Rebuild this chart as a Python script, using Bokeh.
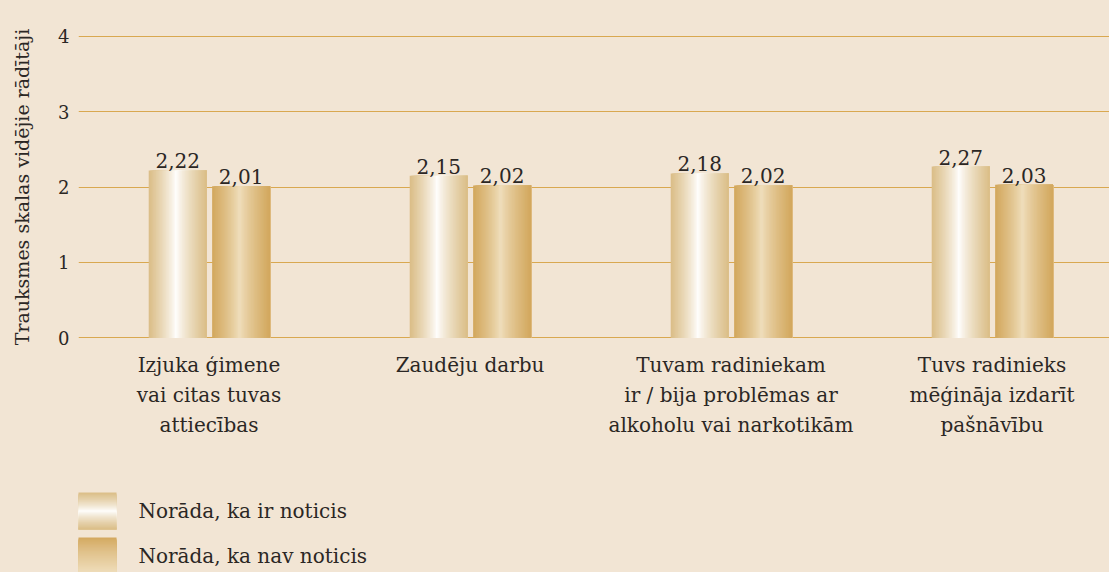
import numpy as np
from bokeh.plotting import figure
from bokeh.layouts import column
from bokeh.models import Range1d, FixedTicker, ColumnDataSource
from bokeh.core.properties import value
from bokeh.embed import file_html
from bokeh.resources import INLINE

categories = [
    "Izjuka ģimene\nvai citas tuvas\nattiecības",
    "Zaudēju darbu",
    "Tuvam radiniekam\nir / bija problēmas ar\nalkoholu vai narkotikām",
    "Tuvs radinieks\nmēģināja izdarīt\npašnāvību",
]
series_names = ["Norāda, ka ir noticis", "Norāda, ka nav noticis"]
noticis = [2.22, 2.15, 2.18, 2.27]
nav_noticis = [2.01, 2.02, 2.02, 2.03]
y_ticks = [0, 1, 2, 3, 4]
y_title = "Trauksmes skalas vidējie rādītāji"

BG = "#f2e5d4"
GRID = "#d9a850"
TXT = "#2b2724"
FONT = "DejaVu Serif"

def mix(c1, c2, t):
    a = np.array([int(c1[i:i + 2], 16) for i in (1, 3, 5)], float)
    b = np.array([int(c2[i:i + 2], 16) for i in (1, 3, 5)], float)
    c = a + (b - a) * t
    return "#%02x%02x%02x" % tuple(int(round(v)) for v in c)

def profile(t, peak=0.47, power=0.8):
    d = np.where(t < peak, (peak - t) / peak, (t - peak) / (1 - peak))
    return 1 - d ** power

styles = [
    dict(edge="#dabd86", center="#ffffff"),
    dict(edge="#d2a75c", center="#f0dfbe"),
]

W, H_MAIN, H_LEG = 1109, 480, 92
LEFT = 78
ncat = len(categories)
x_centers = np.arange(ncat) + 0.5
bar_w = 0.222
offsets = [-0.12, 0.123]

p = figure(width=W, height=H_MAIN, output_backend="svg", toolbar_location=None,
           x_range=Range1d(0, (W - LEFT) / 261.0), y_range=Range1d(-0.02, 4.02),
           min_border_left=LEFT, min_border_right=0, min_border_top=34,
           min_border_bottom=H_MAIN - 339,
           background_fill_color=BG, border_fill_color=BG, outline_line_color=None)

p.xgrid.grid_line_color = None
p.ygrid.grid_line_color = GRID
p.ygrid.grid_line_width = 1.1
p.ygrid.ticker = FixedTicker(ticks=y_ticks)
p.ygrid.level = "underlay"

N = 40
for s, vals in enumerate([noticis, nav_noticis]):
    st = styles[s]
    for i, v in enumerate(vals):
        left0 = x_centers[i] + offsets[s] - bar_w / 2
        right0 = left0 + bar_w
        edges = left0 + bar_w * np.arange(N) / N
        tmid = (np.arange(N) + 0.5) / N
        cols = [mix(st["edge"], st["center"], f) for f in profile(tmid)]
        src = ColumnDataSource(dict(left=edges, right=[right0] * N,
                                    top=[v] * N, bottom=[0] * N, color=cols))
        p.quad(left="left", right="right", top="top", bottom="bottom", source=src,
               fill_color="color", line_color=None)
    lbl = ColumnDataSource(dict(x=x_centers + offsets[s], y=vals,
                                t=[("%.2f" % v).replace(".", ",") for v in vals]))
    p.text(x="x", y="y", text="t", source=lbl, text_align="center", text_baseline="bottom",
           y_offset=-2, text_font=value(FONT), text_font_size="20px", text_color=TXT)

yax = p.yaxis[0]
yax.ticker = FixedTicker(ticks=y_ticks)
yax.axis_line_color = None
yax.major_tick_line_color = None
yax.minor_tick_line_color = None
yax.major_label_text_font = FONT
yax.major_label_text_font_size = "18px"
yax.major_label_text_color = TXT
yax.major_label_standoff = 3
yax.axis_label = y_title
yax.axis_label_text_font = FONT
yax.axis_label_text_font_size = "19px"
yax.axis_label_text_font_style = "normal"
yax.axis_label_text_color = TXT
yax.axis_label_standoff = 22

xax = p.xaxis[0]
xax.ticker = FixedTicker(ticks=list(x_centers))
xax.major_label_overrides = {float(x): c for x, c in zip(x_centers, categories)}
xax.axis_line_color = None
xax.major_tick_line_color = None
xax.minor_tick_line_color = None
xax.major_label_text_font = FONT
xax.major_label_text_font_size = "20px"
xax.major_label_text_font_style = "normal"
xax.major_label_text_color = TXT
xax.major_label_text_line_height = 1.27
xax.major_label_standoff = 7

# legend figure (frame aligned with the main figure's frame)
lg = figure(width=W, height=H_LEG, output_backend="svg", toolbar_location=None,
            x_range=Range1d(LEFT, W), y_range=Range1d(H_LEG, 0),
            min_border_left=LEFT, min_border_right=0, min_border_top=0, min_border_bottom=0,
            background_fill_color=BG, border_fill_color=BG, outline_line_color=None)
lg.axis.visible = False
lg.grid.visible = False
sw_tops = [12, 57]
sw_h = 37
for s, name in enumerate(series_names):
    st = styles[s]
    M = 30
    edges = sw_tops[s] + sw_h * np.arange(M) / M
    tmid = (np.arange(M) + 0.5) / M
    if s == 0:
        cols = [mix(st["edge"], st["center"], f) for f in profile(tmid, 0.5, 0.8)]
    else:
        cols = [mix(st["edge"], st["center"], f) for f in tmid ** 0.8]
    lg.quad(left=[77] * M, right=[116] * M, top=list(edges),
            bottom=[sw_tops[s] + sw_h] * M, fill_color=cols, line_color=None)
    lg.text(x=[138], y=[sw_tops[s] + sw_h / 2], text=[name], text_baseline="middle",
            text_font=value(FONT), text_font_size="20px", text_color=TXT)

layout = column(p, lg, spacing=0, styles={"background-color": BG})
open("out.html", "w").write(file_html(layout, INLINE))
